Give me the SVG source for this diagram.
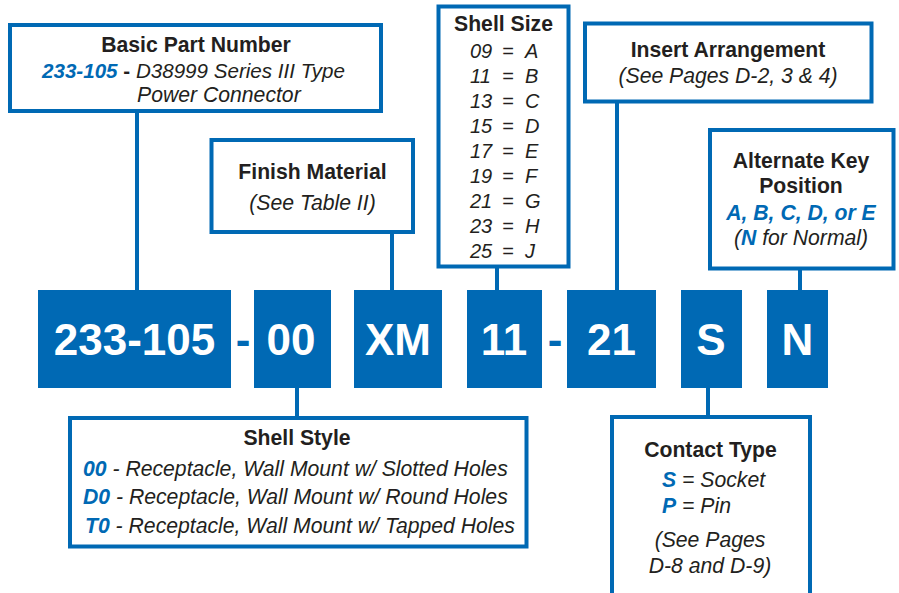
<svg xmlns="http://www.w3.org/2000/svg" width="899" height="593" viewBox="0 0 899 593">
<style>
.box{fill:#ffffff;stroke:#0069b4;stroke-width:4}
.code{fill:#0069b4}
.ct{font-family:"Liberation Sans",Arial,sans-serif;font-weight:bold;font-size:44px;fill:#ffffff;text-anchor:middle}
.dash{font-family:"Liberation Sans",Arial,sans-serif;font-weight:bold;font-size:44px;fill:#0069b4;text-anchor:middle}
.h{font-family:"Liberation Sans",Arial,sans-serif;font-weight:bold;font-size:21.2px;fill:#231f20;text-anchor:middle}
.t{font-family:"Liberation Sans",Arial,sans-serif;font-style:italic;font-size:21.2px;fill:#231f20}
.s{font-size:20px}
.m{text-anchor:middle}
.b{font-weight:bold;fill:#0069b4}
.k{font-weight:bold;font-style:normal;fill:#231f20}
.conn line{stroke:#0069b4;stroke-width:4}
</style>
<rect width="899" height="593" fill="#ffffff"/>
<g class="conn" id="connectors">
<line x1="137" y1="111" x2="137" y2="290"/>
<line x1="297" y1="388" x2="297" y2="418"/>
<line x1="392" y1="232" x2="392" y2="290"/>
<line x1="497" y1="266" x2="497" y2="290"/>
<line x1="617" y1="101" x2="617" y2="290"/>
<line x1="708" y1="388" x2="708" y2="417"/>
<line x1="800" y1="268" x2="800" y2="290"/>
</g>
<g id="code-233-105"><rect class="code" x="38" y="290" width="193" height="98"/><text class="ct" x="134.5" y="355">233-105</text></g>
<text class="dash" x="243" y="355">-</text>
<g id="code-00"><rect class="code" x="254" y="290" width="77" height="98"/><text class="ct" x="291" y="355">00</text></g>
<g id="code-XM"><rect class="code" x="354" y="290" width="88" height="98"/><text class="ct" x="398" y="355">XM</text></g>
<g id="code-11"><rect class="code" x="467" y="290" width="75" height="98"/><text class="ct" x="504" y="355">11</text></g>
<text class="dash" x="555" y="355">-</text>
<g id="code-21"><rect class="code" x="567" y="290" width="89" height="98"/><text class="ct" x="611.5" y="355">21</text></g>
<g id="code-S"><rect class="code" x="681" y="290" width="61" height="98"/><text class="ct" x="711" y="355">S</text></g>
<g id="code-N"><rect class="code" x="767" y="290" width="61" height="98"/><text class="ct" x="797.5" y="355">N</text></g>

<g id="basic-part-number">
<rect class="box" x="10" y="25" width="371" height="86"/>
<text class="h" x="196" y="52">Basic Part Number</text>
<text class="t" x="42" y="78" style="font-size:20.6px"><tspan class="b">233-105</tspan><tspan class="k"> - </tspan>D38999 Series III Type</text>
<text class="t" x="137" y="102">Power Connector</text>
</g>
<g id="finish-material">
<rect class="box" x="211.5" y="140" width="201.5" height="92"/>
<text class="h" x="312.5" y="179">Finish Material</text>
<text class="t m" x="312.5" y="210">(See Table II)</text>
</g>
<g id="shell-size">
<rect class="box" x="438.5" y="6.5" width="130" height="260"/>
<text class="h" x="503.5" y="31">Shell Size</text>
<text class="t s"><tspan x="470" y="58">09</tspan><tspan x="502" y="58">=</tspan><tspan x="525" y="58">A</tspan></text>
<text class="t s"><tspan x="470" y="83">11</tspan><tspan x="502" y="83">=</tspan><tspan x="525" y="83">B</tspan></text>
<text class="t s"><tspan x="470" y="108">13</tspan><tspan x="502" y="108">=</tspan><tspan x="525" y="108">C</tspan></text>
<text class="t s"><tspan x="470" y="133">15</tspan><tspan x="502" y="133">=</tspan><tspan x="525" y="133">D</tspan></text>
<text class="t s"><tspan x="470" y="158">17</tspan><tspan x="502" y="158">=</tspan><tspan x="525" y="158">E</tspan></text>
<text class="t s"><tspan x="470" y="183">19</tspan><tspan x="502" y="183">=</tspan><tspan x="525" y="183">F</tspan></text>
<text class="t s"><tspan x="470" y="208">21</tspan><tspan x="502" y="208">=</tspan><tspan x="525" y="208">G</tspan></text>
<text class="t s"><tspan x="470" y="233">23</tspan><tspan x="502" y="233">=</tspan><tspan x="525" y="233">H</tspan></text>
<text class="t s"><tspan x="470" y="258">25</tspan><tspan x="502" y="258">=</tspan><tspan x="525" y="258">J</tspan></text>
</g>
<g id="insert-arrangement">
<rect class="box" x="585" y="23.5" width="286.5" height="78"/>
<text class="h" x="728" y="57">Insert Arrangement</text>
<text class="t m" x="728" y="83">(See Pages D-2, 3 &amp; 4)</text>
</g>
<g id="alternate-key">
<rect class="box" x="710" y="130" width="183.5" height="138.5"/>
<text class="h" x="801" y="168">Alternate Key</text>
<text class="h" x="801" y="193">Position</text>
<text class="t m b" x="801" y="220">A, B, C, D, or E</text>
<text class="t m" x="801" y="245">(<tspan class="b">N</tspan> for Normal)</text>
</g>
<g id="shell-style">
<rect class="box" x="70" y="418" width="456.5" height="128.5"/>
<text class="h" x="297" y="445">Shell Style</text>
<text class="t" x="83" y="476"><tspan class="b">00</tspan> - Receptacle, Wall Mount w/ Slotted Holes</text>
<text class="t" x="83" y="504"><tspan class="b">D0</tspan> - Receptacle, Wall Mount w/ Round Holes</text>
<text class="t" x="85" y="533"><tspan class="b">T0</tspan> - Receptacle, Wall Mount w/ Tapped Holes</text>
</g>
<g id="contact-type">
<path class="box" d="M612,600 V417 H810 V600"/>
<text class="h" x="710.5" y="457">Contact Type</text>
<text class="t" x="662" y="487"><tspan class="b">S</tspan> = Socket</text>
<text class="t" x="662" y="513"><tspan class="b">P</tspan> = Pin</text>
<text class="t m" x="710" y="547">(See Pages</text>
<text class="t m" x="710" y="573">D-8 and D-9)</text>
</g>
</svg>
